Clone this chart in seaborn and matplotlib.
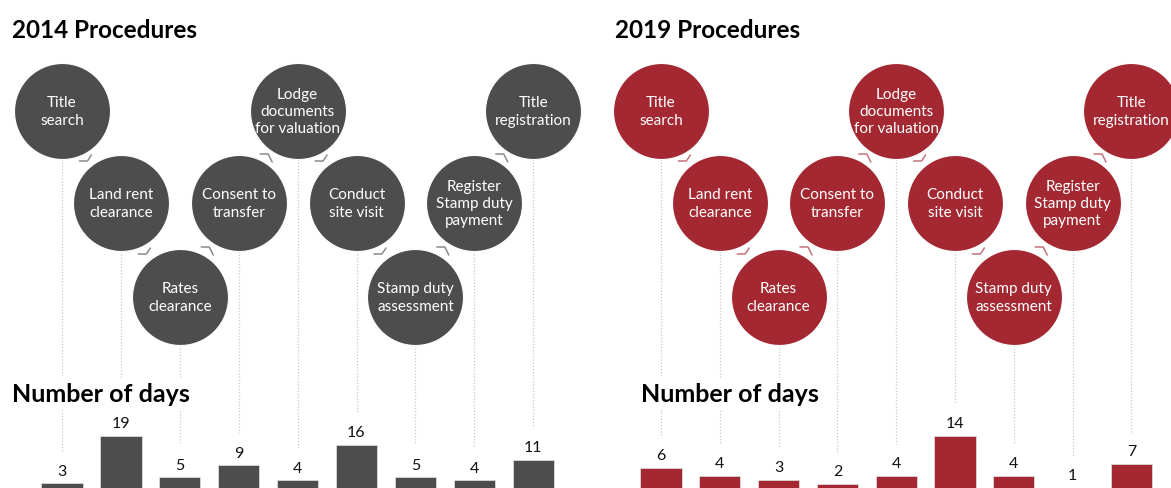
import numpy as np
import matplotlib.pyplot as plt
import seaborn as sns

sns.set_style("white")
plt.rcParams['font.family'] = ['Lato', 'DejaVu Sans']

# data
steps = ["Title\nsearch", "Land rent\nclearance", "Rates\nclearance", "Consent to\ntransfer",
         "Lodge\ndocuments\nfor valuation", "Conduct\nsite visit", "Stamp duty\nassessment",
         "Register\nStamp duty\npayment", "Title\nregistration"]
days_2014 = [3, 19, 5, 9, 4, 16, 5, 4, 11]
days_2019 = [6, 4, 3, 2, 4, 14, 4, 1, 7]
titles = ["2014 Procedures", "2019 Procedures"]
colors = ["#4d4d4d", "#a32832"]

# layout (pixels)
W, H = 1171, 489
row_pattern = [0, 1, 2, 1, 0, 1, 2, 1, 0]
row_y = [112, 204, 298]
radius = 48
panels = [
    dict(first=62, step=58.9, title_x=12, nod_x=12),
    dict(first=661, step=58.8, title_x=615, nod_x=641),
]

fig = plt.figure(figsize=(W / 100, H / 100), dpi=100)

for p, days, title, color in zip(panels, [days_2014, days_2019], titles, colors):
    left = p["first"] - 0.5 * p["step"]
    width = 9 * p["step"]
    n = len(days)
    vmax = max(days)

    # bars, baseline just below the bottom edge
    bax = fig.add_axes([left / W, -4 / H, width / W, 60 / H])
    sns.barplot(x=list(range(n)), y=days, ax=bax, color=color, width=0.7,
                edgecolor="#d9d9d9", linewidth=0.6, saturation=1)
    bax.set_xlim(-0.5, n - 0.5)
    bax.set_ylim(0, vmax * 60 / 56)
    bax.bar_label(bax.containers[0], padding=4, fontsize=11.5, color="#111111")
    bax.axis("off")

    # circles in pixel y coordinates
    cax = fig.add_axes([left / W, 0, width / W, 1], zorder=-1)
    cax.set_xlim(-0.5, n - 0.5)
    cax.set_ylim(H, 0)
    cax.axis("off")

    xs = np.arange(n)
    ys = np.array([row_y[r] for r in row_pattern])
    d_pt = 2 * radius * 0.72
    cax.scatter(xs, ys, s=d_pt ** 2, color=color, edgecolor="white", linewidth=0.8,
                zorder=3, clip_on=False)
    for x, y, label in zip(xs, ys, steps):
        cax.text(x, y, label, color="white", ha="center", va="center", fontsize=11,
                 linespacing=1.3, zorder=4, clip_on=False)

    # dotted guides from circle to bar label
    for i, v in enumerate(days):
        disp = bax.transData.transform((i, v))
        top = cax.transData.inverted().transform(disp)[1]
        cax.plot([i, i], [ys[i] + radius, top - 32], color="#c8c8c8", lw=0.9,
                 ls=(0, (1, 1.5)), zorder=1, clip_on=False)

    # little connectors between consecutive circles
    px = 1 / p["step"]
    for i in range(n - 1):
        mx = (xs[i] + xs[i + 1]) / 2
        my = (ys[i] + ys[i + 1]) / 2
        if ys[i + 1] > ys[i]:
            dx = [-12, -4, 0]
            dy = [4, 4, -2]
        else:
            dx = [-8, 0, 4]
            dy = [-3, -3, 5]
        cax.plot([mx + d * px for d in dx], [my + d for d in dy], color=color,
                 alpha=0.65, lw=1.1, zorder=2, clip_on=False)

    fig.text(p["title_x"] / W, 1 - 30 / H, title, fontsize=17.5, fontweight="bold",
             va="center", ha="left", color="black")
    fig.text(p["nod_x"] / W, 1 - 395 / H, "Number of days", fontsize=18, fontweight="bold",
             va="center", ha="left", color="black", zorder=10,
             bbox=dict(facecolor="white", edgecolor="none", pad=3))

fig.savefig("out.png", dpi=100, facecolor="white")
